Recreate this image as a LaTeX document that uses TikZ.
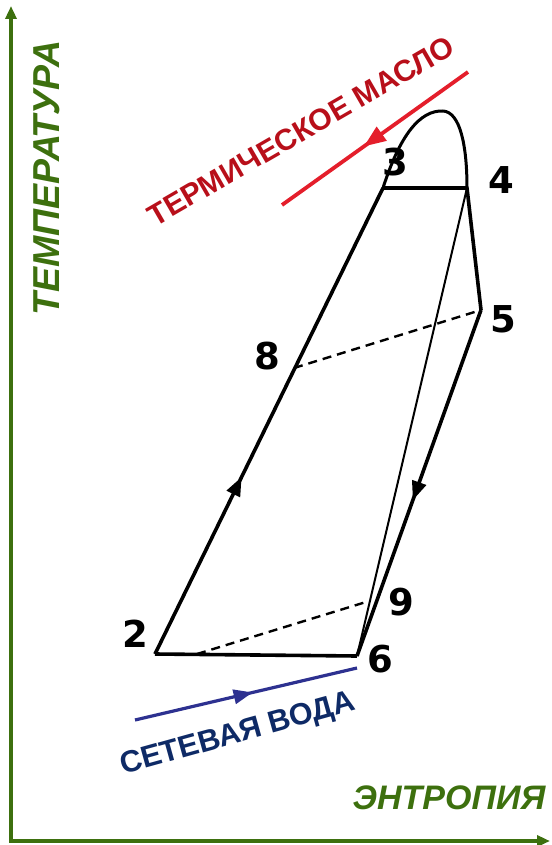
\documentclass[tikz,border=0pt]{standalone}
\usepackage{fontspec}
\setmainfont{Liberation Sans}
\newfontfamily\digitfont{DejaVu Sans}
\usepackage{tikz}
\usetikzlibrary{arrows.meta,decorations.markings}
\definecolor{axisgreen}{HTML}{3D700E}
\definecolor{oilred}{HTML}{E41E2B}
\definecolor{oiltext}{HTML}{B80F1A}
\definecolor{waterblue}{HTML}{2D3190}
\definecolor{watertext}{HTML}{0E2A66}

\begin{document}
\begin{tikzpicture}[x=1pt,y=-1pt,
  cycleline/.style={line width=3.6pt,line join=round},
  thinline/.style={line width=2pt},
  dashline/.style={line width=2.4pt,dash pattern=on 9pt off 6pt},
  axisline/.style={line width=4pt,axisgreen},
  midarrow/.style 2 args={postaction={decorate},decoration={markings,
    mark=at position #1 with {\arrow{Triangle[length=#2pt,width=0.75*#2pt]}}}},
  num/.style={font=\digitfont\bfseries\fontsize{37}{37}\selectfont,inner sep=0pt},
  axislabel/.style={font=\bfseries\itshape\fontsize{34}{34}\selectfont,text=axisgreen,inner sep=0pt},
  flowlabel/.style={font=\bfseries\fontsize{30}{30}\selectfont,inner sep=0pt}]
  \useasboundingbox (0,0) rectangle (551,845);

  \coordinate (origin) at (11,841);
  \coordinate (tend) at (11,6);
  \coordinate (send) at (550,841);
  \draw[axisline,{Triangle[length=13pt,width=11pt]}-{Triangle[length=13pt,width=11pt]}]
    (tend) -- (origin) -- (send);
  \node[axislabel,rotate=90,font=\bfseries\itshape\fontsize{37.5}{37.5}\selectfont] (tlabel) at (47,178) {ТЕМПЕРАТУРА};
  \node[axislabel] (slabel) at (449,798) {ЭНТРОПИЯ};

  \coordinate (p2) at (155,654);
  \coordinate (p3) at (383,188);
  \coordinate (p4) at (467,188);
  \coordinate (p5) at (481,310);
  \coordinate (p6) at (357,656);
  \coordinate (p8) at (294,368);
  \coordinate (p9) at (366,602);
  \coordinate (q2) at (197,654);
  \coordinate (top) at (443,111);

  \draw[cycleline,line width=3pt] (p3) .. controls (400,135) and (420,110) .. (top)
    .. controls (460,112) and (467,145) .. (p4);
  \draw[cycleline,midarrow={0.38}{19}] (p2) -- (p3);
  \draw[cycleline] (p3) -- (p4) -- (p5);
  \draw[cycleline,midarrow={0.55}{19}] (p5) -- (p6);
  \draw[cycleline] (p6) -- (p2);
  \draw[thinline] (p4) -- (p6);
  \draw[dashline] (p8) -- (p5);
  \draw[dashline] (q2) -- (p9);

  \node[num] (l2) at (135,634) {2};
  \node[num] (l3) at (395,162) {3};
  \node[num] (l4) at (501,180) {4};
  \node[num] (l5) at (503,319) {5};
  \node[num] (l6) at (380,659) {6};
  \node[num] (l8) at (267,356) {8};
  \node[num] (l9) at (401,602) {9};

  \coordinate (oilin) at (468,72);
  \coordinate (oilout) at (282,205);
  \draw[oilred,line width=3.8pt,midarrow={0.56}{22}] (oilin) -- (oilout);
  \node[flowlabel,text=oiltext,rotate=30] (oil) at (301,131) {ТЕРМИЧЕСКОЕ МАСЛО};

  \coordinate (waterin) at (135,720);
  \coordinate (waterout) at (357,668);
  \draw[waterblue,line width=3.2pt,midarrow={0.53}{19}] (waterin) -- (waterout);
  \node[flowlabel,text=watertext,rotate=15.5,font=\bfseries\fontsize{30.5}{30.5}\selectfont] (water) at (238,735) {СЕТЕВАЯ ВОДА};
\end{tikzpicture}
\end{document}
